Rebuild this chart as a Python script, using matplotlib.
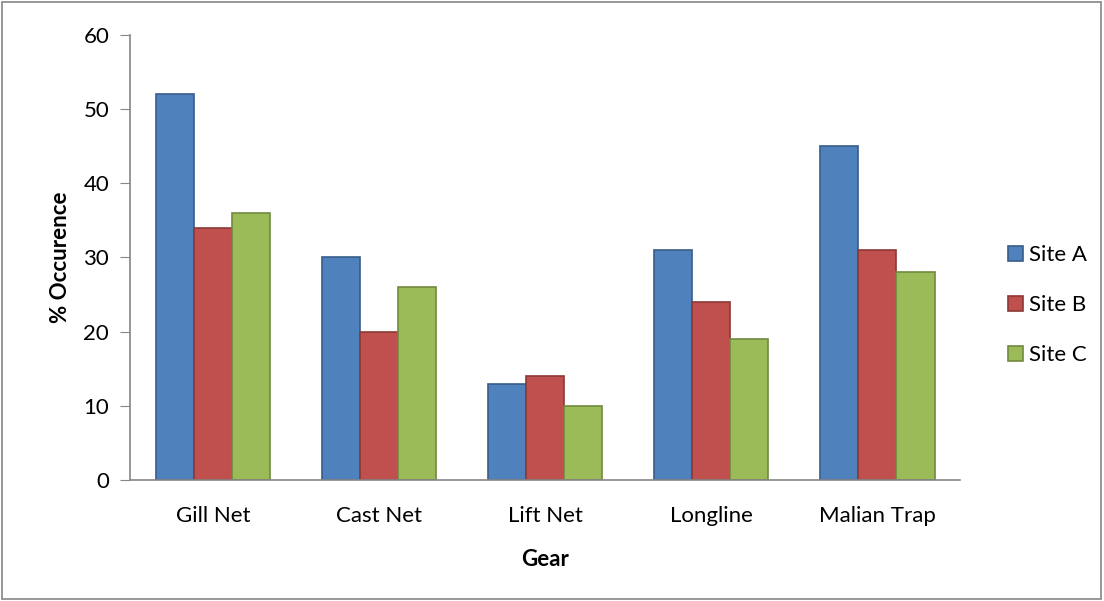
import numpy as np
import matplotlib.pyplot as plt
from matplotlib.patches import Rectangle

plt.rcParams['font.family'] = ['Lato', 'DejaVu Sans']

gears = ['Gill Net', 'Cast Net', 'Lift Net', 'Longline', 'Malian Trap']
site_a = [52, 30, 13, 31, 45]
site_b = [34, 20, 14, 24, 31]
site_c = [36, 26, 10, 19, 28]

fig = plt.figure(figsize=(11.04, 6.01), dpi=100, facecolor='w')
ax = fig.add_axes([0.1178, 0.2013, 0.752, 0.7405])

x = np.arange(len(gears))
w = 0.23
series = [(site_a, 'Site A', '#4F81BD', '#385D8A'),
          (site_b, 'Site B', '#C0504D', '#8C3836'),
          (site_c, 'Site C', '#9BBB59', '#71893F')]
for i, (vals, lab, fc, ec) in enumerate(series):
    ax.bar(x + (i - 1) * w, vals, w, color=fc, edgecolor=ec, linewidth=1.2, label=lab)

fs = 16
ax.set_xlim(-0.5, len(gears) - 0.5)
ax.set_ylim(0, 60)
ax.set_yticks(range(0, 61, 10))
ax.set_xticks(x)
ax.set_xticklabels(gears, fontsize=fs)
ax.tick_params(axis='y', labelsize=fs, length=7, color='#868686', pad=8)
ax.tick_params(axis='x', length=0, pad=19)
for s in ['top', 'right']:
    ax.spines[s].set_visible(False)
for s in ['left', 'bottom']:
    ax.spines[s].set_color('#868686')
    ax.spines[s].set_linewidth(1.2)

ax.set_ylabel('% Occurence', fontsize=fs, fontweight='bold', labelpad=9)
ax.set_xlabel('Gear', fontsize=fs, fontweight='bold', labelpad=16)

ax.legend(loc='center left', bbox_to_anchor=(1.033, 0.393), frameon=False,
          fontsize=fs, handlelength=0.7, handleheight=0.7,
          handletextpad=0.25, labelspacing=1.35)

fig.patches.append(Rectangle((0.002, 0.003), 0.995, 0.993, transform=fig.transFigure,
                             fill=False, edgecolor='#868686', linewidth=1.2))

plt.savefig('out.png', dpi=100)
